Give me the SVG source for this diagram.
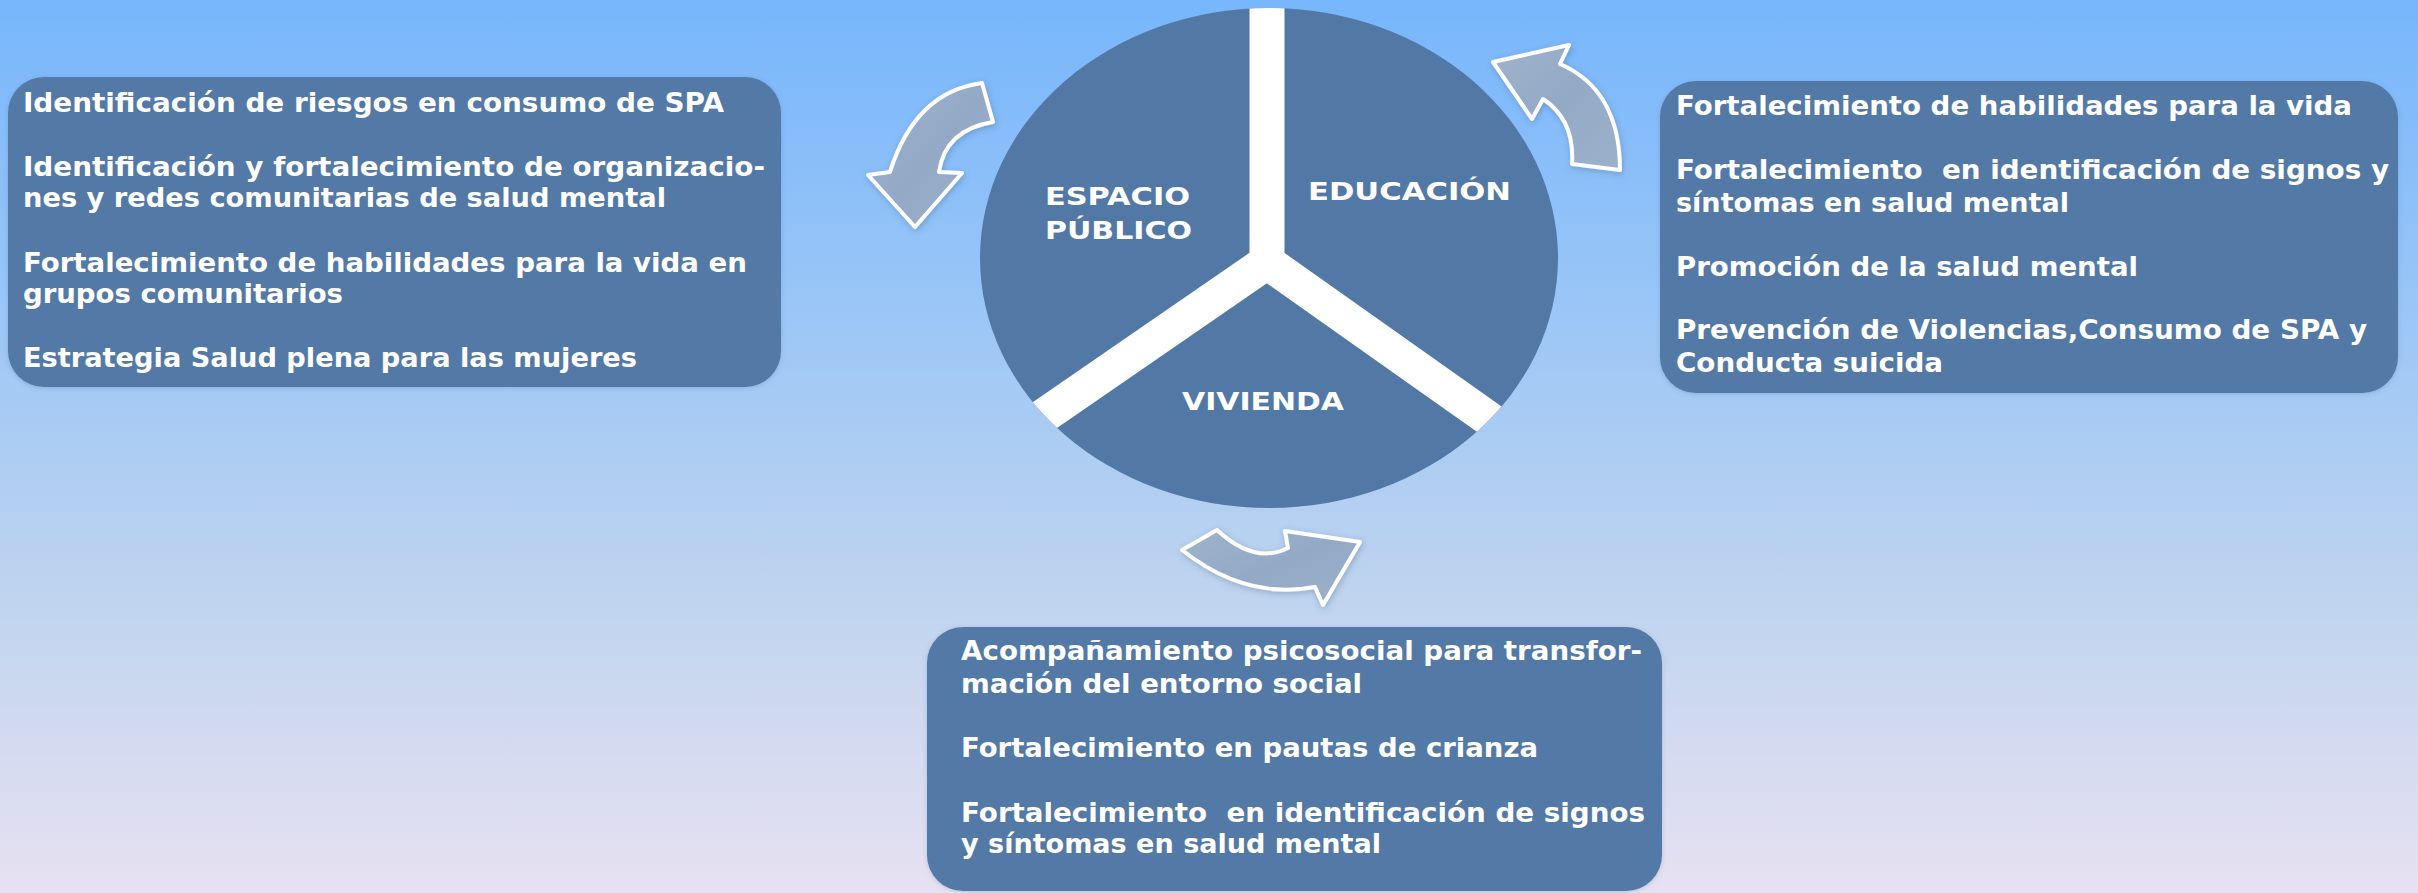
<svg xmlns="http://www.w3.org/2000/svg" width="2418" height="893" viewBox="0 0 2418 893">
<defs>
<linearGradient id="bg" x1="0" y1="0" x2="0" y2="1">
<stop offset="0" stop-color="#77B6FC"/>
<stop offset="0.35" stop-color="#9BC6F6"/>
<stop offset="0.65" stop-color="#BDD3EF"/>
<stop offset="1" stop-color="#E7E1F2"/>
</linearGradient>
<linearGradient id="arrowFill" x1="0" y1="0" x2="1" y2="1">
<stop offset="0" stop-color="#A0B3CB"/>
<stop offset="0.5" stop-color="#93A9C6"/>
<stop offset="1" stop-color="#9DB1CA"/>
</linearGradient>
<filter id="shadow" x="-20%" y="-20%" width="140%" height="140%">
<feDropShadow dx="1" dy="2" stdDeviation="3" flood-color="#3A5A80" flood-opacity="0.35"/>
</filter>
<filter id="boxShadow" x="-5%" y="-5%" width="110%" height="110%">
<feDropShadow dx="0" dy="1" stdDeviation="2" flood-color="#3A5A80" flood-opacity="0.25"/>
</filter>
<clipPath id="hubClip">
<ellipse cx="1269" cy="258" rx="289" ry="250"/>
</clipPath>
</defs>
<style>
.box{fill:#5279A6;filter:url(#boxShadow)}
.t{font-family:"DejaVu Sans","Liberation Sans",sans-serif;font-weight:bold;font-size:26.5px;fill:#FFFFFF}
.lbl{font-family:"DejaVu Sans","Liberation Sans",sans-serif;font-weight:bold;font-size:25.5px;fill:#FFFFFF}
.arrow{fill:url(#arrowFill);stroke:#FFFFFF;stroke-width:4;stroke-linejoin:round;filter:url(#shadow)}
.arm{stroke:#FFFFFF;stroke-width:35;stroke-linecap:butt;fill:none}
</style>
<rect x="0" y="0" width="2418" height="893" fill="url(#bg)"/>

<g id="node-hub">
<ellipse cx="1269" cy="258" rx="289" ry="250" fill="#5279A6"/>
<g clip-path="url(#hubClip)">
<line class="arm" x1="1267" y1="262" x2="1267" y2="-20"/>
<line class="arm" x1="1267" y1="262" x2="1000" y2="446"/>
<line class="arm" x1="1267" y1="262" x2="1540" y2="455"/>
<circle cx="1267" cy="262" r="17" fill="#FFFFFF"/>
</g>
<text class="lbl" x="1045" y="205" textLength="145" lengthAdjust="spacingAndGlyphs">ESPACIO</text>
<text class="lbl" x="1045" y="239" textLength="147" lengthAdjust="spacingAndGlyphs">PÚBLICO</text>
<text class="lbl" x="1308" y="200" textLength="203" lengthAdjust="spacingAndGlyphs">EDUCACIÓN</text>
<text class="lbl" x="1182" y="410" textLength="162" lengthAdjust="spacingAndGlyphs">VIVIENDA</text>
</g>

<g id="node-espacio-publico">
<rect class="box" x="8" y="77" width="773" height="310" rx="36" ry="36"/>
<text class="t" x="23" y="112" textLength="701" lengthAdjust="spacingAndGlyphs">Identificación de riesgos en consumo de SPA</text>
<text class="t" x="23" y="176" textLength="742" lengthAdjust="spacingAndGlyphs">Identificación y fortalecimiento de organizacio-</text>
<text class="t" x="23" y="207" textLength="643" lengthAdjust="spacingAndGlyphs">nes y redes comunitarias de salud mental</text>
<text class="t" x="23" y="272" textLength="724" lengthAdjust="spacingAndGlyphs">Fortalecimiento de habilidades para la vida en</text>
<text class="t" x="23" y="303" textLength="320" lengthAdjust="spacingAndGlyphs">grupos comunitarios</text>
<text class="t" x="23" y="367" textLength="614" lengthAdjust="spacingAndGlyphs">Estrategia Salud plena para las mujeres</text>
</g>

<g id="node-educacion">
<rect class="box" x="1660" y="81" width="738" height="312" rx="36" ry="36"/>
<text class="t" x="1676" y="115" textLength="676" lengthAdjust="spacingAndGlyphs">Fortalecimiento de habilidades para la vida</text>
<text class="t" x="1676" y="179" textLength="713" lengthAdjust="spacingAndGlyphs" xml:space="preserve">Fortalecimiento  en identificación de signos y</text>
<text class="t" x="1676" y="212" textLength="393" lengthAdjust="spacingAndGlyphs">síntomas en salud mental</text>
<text class="t" x="1676" y="276" textLength="462" lengthAdjust="spacingAndGlyphs">Promoción de la salud mental</text>
<text class="t" x="1676" y="339" textLength="691" lengthAdjust="spacingAndGlyphs">Prevención de Violencias,Consumo de SPA y</text>
<text class="t" x="1676" y="372" textLength="267" lengthAdjust="spacingAndGlyphs">Conducta suicida</text>
</g>

<g id="node-vivienda">
<rect class="box" x="927" y="627" width="735" height="264" rx="36" ry="36"/>
<text class="t" x="961" y="660" textLength="681" lengthAdjust="spacingAndGlyphs">Acompañamiento psicosocial para transfor-</text>
<text class="t" x="961" y="693" textLength="401" lengthAdjust="spacingAndGlyphs">mación del entorno social</text>
<text class="t" x="961" y="757" textLength="577" lengthAdjust="spacingAndGlyphs">Fortalecimiento en pautas de crianza</text>
<text class="t" x="961" y="822" textLength="684" lengthAdjust="spacingAndGlyphs" xml:space="preserve">Fortalecimiento  en identificación de signos</text>
<text class="t" x="961" y="853" textLength="420" lengthAdjust="spacingAndGlyphs">y síntomas en salud mental</text>
</g>

<g id="connectors">
<path class="arrow" d="M 982,83 Q 915,92 890,172 L 868,175 L 915,227 L 962,173 L 939,172 Q 945,130 993,122 Z"/>
<path class="arrow" d="M 1493,62 L 1569,45 L 1560,64 Q 1620,90 1620,170 L 1572,164 Q 1575,120 1543,99 L 1532,119 Z"/>
<path class="arrow" d="M 1217,530 L 1182,550 Q 1245,600 1315,587 L 1323,605 L 1360,542 L 1285,531 L 1288,548 Q 1255,565 1217,530 Z"/>
</g>
</svg>
